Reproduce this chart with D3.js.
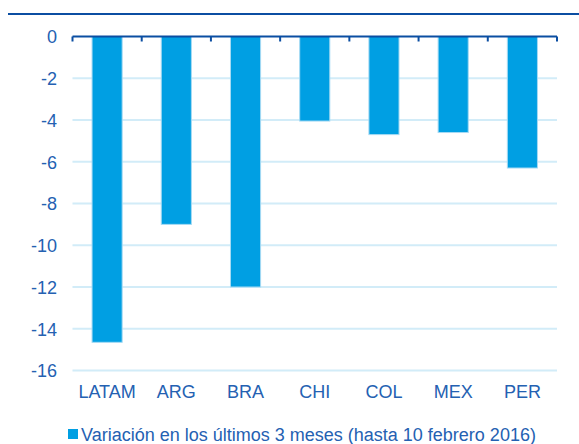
<!DOCTYPE html>
<html>
<head>
<meta charset="utf-8">
<script src="https://cdn.jsdelivr.net/npm/d3@7"></script>
<style>
  html, body { margin: 0; padding: 0; background: #fff; }
  svg { display: block; }
  text { font-family: "Liberation Sans", Arial, sans-serif; }
</style>
</head>
<body>
<svg id="chart" width="579" height="444"></svg>
<script>
// Currency variation over the last three months, by country
const categories = ["LATAM", "ARG", "BRA", "CHI", "COL", "MEX", "PER"];
const values = [-14.65, -9.0, -12.0, -4.05, -4.7, -4.6, -6.3];
const yTicks = [0, -2, -4, -6, -8, -10, -12, -14, -16];
const legendLabel = "Variación en los últimos 3 meses (hasta 10 febrero 2016)";

const BAR = "#009fe3";
const BAR_EDGE = "#a6daf3";
const DARK = "#0b4ea2";
const LABEL = "#2461b2";
const GRID = "#d2ecf8";

const svg = d3.select("#chart");

// rule under the heading
svg.append("line")
  .attr("x1", 8).attr("x2", 579)
  .attr("y1", 14).attr("y2", 14)
  .attr("stroke", DARK).attr("stroke-width", 2);

const x = d3.scaleBand().domain(categories).range([72.5, 557]).padding(0);
const y = d3.scaleLinear().domain([-16, 0]).range([370.5, 36.5]);
const barW = x.bandwidth() * 0.435;

// gridlines
svg.append("g").selectAll("line")
  .data(yTicks.filter(d => d !== 0))
  .join("line")
  .attr("x1", x.range()[0]).attr("x2", x.range()[1])
  .attr("y1", d => y(d)).attr("y2", d => y(d))
  .attr("stroke", GRID).attr("stroke-width", 2);

// y-axis labels
const yAxis = d3.axisLeft(y).tickValues(yTicks).tickSize(0).tickPadding(0)
  .tickFormat(d3.format("d"));
const gy = svg.append("g").attr("transform", "translate(57,0)").call(yAxis);
gy.select(".domain").remove();
gy.selectAll("text")
  .attr("fill", LABEL).attr("font-size", 18)
  .attr("font-family", "Liberation Sans, Arial, sans-serif")
  .attr("dy", "0.35em").text(d => d === 0 ? "0" : "-" + Math.abs(d));

// bars
svg.append("g").selectAll("rect")
  .data(values)
  .join("rect")
  .attr("x", (d, i) => x(categories[i]) + (x.bandwidth() - barW) / 2)
  .attr("y", y(0))
  .attr("width", barW)
  .attr("height", d => y(d) - y(0))
  .attr("fill", BAR)
  .attr("stroke", BAR_EDGE).attr("stroke-width", 1);

// category axis along zero, with tick marks at band boundaries
const bounds = categories.map(c => x(c)).concat([x.range()[1]]);
const axisG = svg.append("g");
axisG.append("line")
  .attr("x1", x.range()[0]).attr("x2", x.range()[1])
  .attr("y1", y(0)).attr("y2", y(0))
  .attr("stroke", DARK).attr("stroke-width", 2);
axisG.selectAll("line.tick")
  .data(bounds)
  .join("line")
  .attr("class", "tick")
  .attr("x1", d => d).attr("x2", d => d)
  .attr("y1", y(0)).attr("y2", y(0) + 5)
  .attr("stroke", DARK).attr("stroke-width", 2);

// category labels
svg.append("g").selectAll("text")
  .data(categories)
  .join("text")
  .attr("x", d => x(d) + x.bandwidth() / 2)
  .attr("y", 398)
  .attr("text-anchor", "middle")
  .attr("font-size", 18)
  .attr("fill", LABEL)
  .text(d => d);

// legend
const lg = svg.append("g");
lg.append("rect")
  .attr("x", 68).attr("y", 429).attr("width", 10).attr("height", 10)
  .attr("fill", BAR);
lg.append("text")
  .attr("x", 81).attr("y", 441)
  .attr("font-size", 18)
  .attr("fill", LABEL)
  .text(legendLabel);
</script>
</body>
</html>
